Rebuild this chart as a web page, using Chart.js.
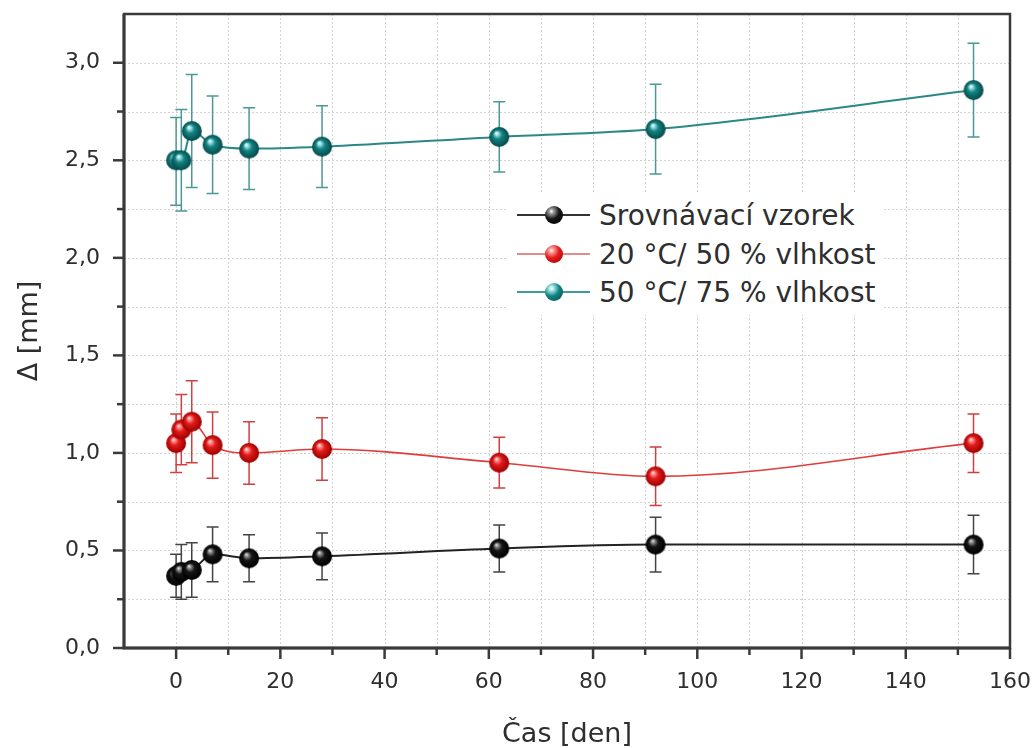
<!DOCTYPE html>
<html>
<head>
<meta charset="utf-8">
<script src="https://cdn.jsdelivr.net/npm/chart.js@4.4.1/dist/chart.umd.min.js"></script>
<style>
body { margin: 0; background: #fff; }
#wrap { position: relative; width: 1036px; height: 748px; }
#legend { position: absolute; left: 507px; top: 192px; width: 376px; height: 123px; background: #fff;
  font-family: "DejaVu Sans"; font-size: 28px; color: #2e2e2e; }
.row { position: absolute; left: 0; height: 36px; display: flex; align-items: center; }
.key { position: relative; width: 73px; height: 20px; margin-left: 10px; }
.key .ln { position: absolute; left: 0; right: 0; top: 9px; height: 2px; }
.key .ball { position: absolute; left: 28px; top: 1px; width: 18px; height: 18px; border-radius: 50%; }
.lbl { margin-left: 9px; white-space: nowrap; }
</style>
</head>
<body>
<div id="wrap">
  <canvas id="chart" width="1036" height="748"></canvas>
  <div id="legend"></div>
</div>
<script>
'use strict';

// time points [days]
const days = [0, 1, 3, 7, 14, 28, 62, 92, 153]

const seriesNames = ['Srovnávací vzorek', '20 °C/ 50 % vlhkost', '50 °C/ 75 % vlhkost']

// reference sample
const refMean = [0.37, 0.39, 0.40, 0.48, 0.46, 0.47, 0.51, 0.53, 0.53]
const refLow  = [0.26, 0.25, 0.26, 0.34, 0.34, 0.35, 0.39, 0.39, 0.38]
const refHigh = [0.48, 0.53, 0.54, 0.62, 0.58, 0.59, 0.63, 0.67, 0.68]

// 20 °C / 50 %
const redMean = [1.05, 1.12, 1.16, 1.04, 1.00, 1.02, 0.95, 0.88, 1.05]
const redLow  = [0.90, 0.94, 0.95, 0.87, 0.84, 0.86, 0.82, 0.73, 0.90]
const redHigh = [1.20, 1.30, 1.37, 1.21, 1.16, 1.18, 1.08, 1.03, 1.20]

// 50 °C / 75 %
const tealMean = [2.50, 2.50, 2.65, 2.58, 2.56, 2.57, 2.62, 2.66, 2.86]
const tealLow  = [2.27, 2.24, 2.36, 2.33, 2.35, 2.36, 2.44, 2.43, 2.62]
const tealHigh = [2.72, 2.76, 2.94, 2.83, 2.77, 2.78, 2.80, 2.89, 3.10]

// tick labels
const xTickLabels = [0, 20, 40, 60, 80, 100, 120, 140, 160]
const yTickValues = [0, 0.5, 1, 1.5, 2, 2.5, 3]
const yTickLabels = ['0,0', '0,5', '1,0', '1,5', '2,0', '2,5', '3,0']

const colors = [
  {line: '#222', err: '#444', base: '#151515', light: '#9a9a9a', dark: '#000', legendLine: '#333'},
  {line: '#e03c3c', err: '#d04040', base: '#e41b1b', light: '#ff9a9a', dark: '#9a0000', legendLine: '#e08a8a'},
  {line: '#2a8888', err: '#4a9898', base: '#138383', light: '#a8e8e8', dark: '#064848', legendLine: '#3f9a9a'},
]

function ball(c, r) {
  const cv = document.createElement('canvas')
  cv.width = cv.height = 2 * r + 2
  const g = cv.getContext('2d')
  const cx = r + 1, cy = r + 1
  const grad = g.createRadialGradient(cx - r * 0.3, cy - r * 0.4, 0, cx, cy, r)
  grad.addColorStop(0, '#ffffff')
  grad.addColorStop(0.15, c.light)
  grad.addColorStop(0.45, c.base)
  grad.addColorStop(1, c.dark)
  g.fillStyle = grad
  g.beginPath()
  g.arc(cx, cy, r, 0, Math.PI * 2)
  g.fill()
  return cv
}

function makeSet(i, mean, low, high) {
  return {
    label: seriesNames[i],
    data: days.map((d, j) => ({x: d, y: mean[j]})),
    low: low,
    high: high,
    errColor: colors[i].err,
    borderColor: colors[i].line,
    borderWidth: i === 1 ? 1.6 : 2,
    pointStyle: ball(colors[i], 10),
    pointRadius: 10,
    cubicInterpolationMode: 'monotone',
    fill: false,
  }
}

const round2 = v => Math.round(v * 100) / 100

const gridLines = {
  id: 'gridLines',
  beforeDatasetsDraw(chart) {
    const {ctx, chartArea: a, scales: {x, y}} = chart
    ctx.save()
    ctx.strokeStyle = '#d2d2d2'
    ctx.lineWidth = 1
    ctx.setLineDash([2, 2])
    x.ticks.forEach(t => {
      const px = Math.round(x.getPixelForValue(t.value)) + 0.5
      ctx.beginPath(); ctx.moveTo(px, a.top); ctx.lineTo(px, a.bottom); ctx.stroke()
    })
    y.ticks.forEach(t => {
      const py = Math.round(y.getPixelForValue(t.value)) + 0.5
      ctx.beginPath(); ctx.moveTo(a.left, py); ctx.lineTo(a.right, py); ctx.stroke()
    })
    ctx.restore()
  }
}

const errorBars = {
  id: 'errorBars',
  beforeDatasetsDraw(chart) {
    const {ctx, scales: {x, y}} = chart
    chart.data.datasets.forEach(ds => {
      ctx.save()
      ctx.strokeStyle = ds.errColor
      ctx.lineWidth = 1.5
      ds.data.forEach((p, j) => {
        const px = x.getPixelForValue(p.x)
        const top = y.getPixelForValue(ds.high[j])
        const bot = y.getPixelForValue(ds.low[j])
        ctx.beginPath()
        ctx.moveTo(px, top); ctx.lineTo(px, bot)
        ctx.moveTo(px - 6, top); ctx.lineTo(px + 6, top)
        ctx.moveTo(px - 6, bot); ctx.lineTo(px + 6, bot)
        ctx.stroke()
      })
      ctx.restore()
    })
  }
}

const frame = {
  id: 'frame',
  afterDraw(chart) {
    const {ctx, chartArea: a, scales: {x, y}} = chart
    ctx.save()
    ctx.strokeStyle = '#3a3a3a'
    ctx.lineWidth = 2.5
    ctx.strokeRect(a.left, a.top, a.right - a.left, a.bottom - a.top)
    ctx.lineWidth = 3
    ctx.beginPath()
    ctx.moveTo(a.left, a.top); ctx.lineTo(a.left, a.bottom); ctx.lineTo(a.right, a.bottom)
    ctx.stroke()
    ctx.lineWidth = 2.5
    x.ticks.forEach(t => {
      if (t.value <= x.min || t.value > x.max) return
      const px = x.getPixelForValue(t.value)
      const len = xTickLabels.includes(t.value) ? 11 : 7
      ctx.beginPath(); ctx.moveTo(px, a.bottom); ctx.lineTo(px, a.bottom + len); ctx.stroke()
    })
    y.ticks.forEach(t => {
      if (t.value >= y.max) return
      const py = y.getPixelForValue(t.value)
      const len = yTickValues.includes(round2(t.value)) ? 11 : 7
      ctx.beginPath(); ctx.moveTo(a.left, py); ctx.lineTo(a.left - len, py); ctx.stroke()
    })
    ctx.restore()
  }
}

const tickFont = {family: 'DejaVu Sans', size: 22}

new Chart(document.getElementById('chart'), {
  type: 'line',
  data: {
    datasets: [
      makeSet(0, refMean, refLow, refHigh),
      makeSet(1, redMean, redLow, redHigh),
      makeSet(2, tealMean, tealLow, tealHigh),
    ]
  },
  options: {
    responsive: false,
    animation: false,
    events: [],
    layout: {padding: {top: 14, right: 26, left: 0, bottom: 0}},
    plugins: {legend: {display: false}, tooltip: {enabled: false}},
    scales: {
      x: {
        type: 'linear',
        min: -10,
        max: 160,
        afterFit: s => { s.height = 100; s.paddingLeft = 0; s.paddingRight = 0 },
        grid: {display: false, drawTicks: false},
        border: {display: false},
        ticks: {
          stepSize: 10,
          autoSkip: false,
          maxRotation: 0,
          padding: 21,
          color: '#2e2e2e',
          font: tickFont,
          callback: v => xTickLabels.includes(v) ? String(v) : '',
        },
        title: {display: true, text: 'Čas [den]', color: '#2e2e2e',
          font: {family: 'DejaVu Sans', size: 27, lineHeight: 1.0}, padding: {top: 0, bottom: 0}},
      },
      y: {
        min: 0,
        max: 3.25,
        afterFit: s => { s.width = 124; s.paddingTop = 0; s.paddingBottom = 0 },
        grid: {display: false, drawTicks: false},
        border: {display: false},
        ticks: {
          stepSize: 0.25,
          autoSkip: false,
          padding: 24,
          color: '#2e2e2e',
          font: tickFont,
          callback: v => {
            const k = yTickValues.indexOf(round2(v))
            return k >= 0 ? yTickLabels[k] : ''
          },
        },
        title: {display: true, text: 'Δ [mm]', color: '#2e2e2e',
          font: {family: 'DejaVu Sans', size: 27}, padding: {top: 14, bottom: 0}},
      },
    },
  },
  plugins: [gridLines, errorBars, frame],
})

// legend (line - ball - line, as in the original)
const legend = document.getElementById('legend')
const rowTops = [5, 44, 82]
seriesNames.forEach((name, i) => {
  const c = colors[i]
  const row = document.createElement('div')
  row.className = 'row'
  row.style.top = rowTops[i] + 'px'
  row.innerHTML = '<div class="key"><div class="ln" style="background:' + c.legendLine + '"></div>' +
    '<div class="ball" style="background:radial-gradient(circle at 36% 30%, #fff 0, ' + c.light + ' 14%, ' +
    c.base + ' 45%, ' + c.dark + ' 100%)"></div></div><span class="lbl"></span>'
  row.querySelector('.lbl').textContent = name
  legend.appendChild(row)
})
</script>
</body>
</html>
